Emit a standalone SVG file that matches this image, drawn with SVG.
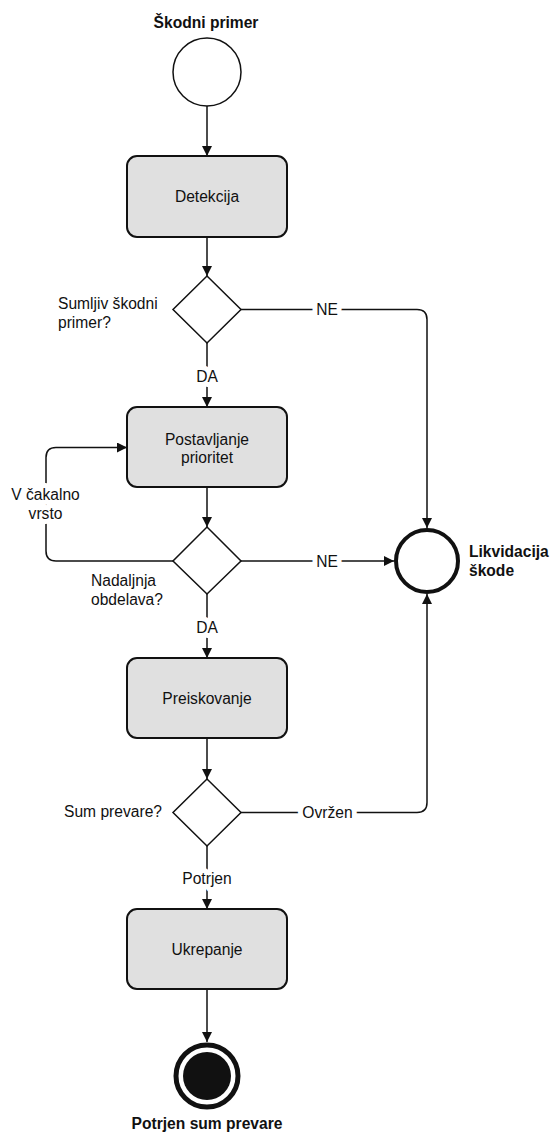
<svg xmlns="http://www.w3.org/2000/svg" width="550" height="1133" viewBox="0 0 550 1133">
  <style>
    text { font-family: "Liberation Sans", Arial, sans-serif; font-size: 15.6px; fill: #111; }
    .bold { font-weight: bold; }
    .mid { text-anchor: middle; }
    .halo { paint-order: stroke; stroke: #fff; stroke-width: 10px; stroke-linejoin: round; }
    .task { fill: #e0e0e0; stroke: #111; stroke-width: 2; }
    .gate { fill: #fff; stroke: #111; stroke-width: 1.5; }
    .flow { fill: none; stroke: #111; stroke-width: 1.5; }
  </style>
  <defs>
    <marker id="arrow" markerUnits="userSpaceOnUse" markerWidth="10" markerHeight="10" refX="10" refY="5" orient="auto">
      <path d="M0,0 L10,5 L0,10 z" fill="#111"/>
    </marker>
  </defs>
  <rect width="550" height="1133" fill="#fff"/>

  <!-- connectors -->
  <g id="connectors">
    <path class="flow" d="M207,106 V156" marker-end="url(#arrow)"/>
    <path class="flow" d="M207,237 V276" marker-end="url(#arrow)"/>
    <path class="flow" d="M241,309.5 H417 Q427,309.5 427,319.5 V528" marker-end="url(#arrow)"/>
    <path class="flow" d="M207,343 V407" marker-end="url(#arrow)"/>
    <path class="flow" d="M207,487 V527" marker-end="url(#arrow)"/>
    <path class="flow" d="M173,561 H56 Q46,561 46,551 V457.5 Q46,447.5 56,447.5 H127" marker-end="url(#arrow)"/>
    <path class="flow" d="M241,561 H394" marker-end="url(#arrow)"/>
    <path class="flow" d="M207,594 V658" marker-end="url(#arrow)"/>
    <path class="flow" d="M207,738 V779" marker-end="url(#arrow)"/>
    <path class="flow" d="M241,812.5 H417 Q427,812.5 427,802.5 V594" marker-end="url(#arrow)"/>
    <path class="flow" d="M207,846 V909" marker-end="url(#arrow)"/>
    <path class="flow" d="M207,989 V1042" marker-end="url(#arrow)"/>
    <!-- connector labels -->
    <text class="mid halo" x="327" y="315">NE</text>
    <text class="mid halo" x="207" y="382">DA</text>
    <text class="mid halo" x="45.5" y="499.5">V čakalno</text>
    <text class="mid halo" x="45.5" y="518.5">vrsto</text>
    <text class="mid halo" x="327" y="566.5">NE</text>
    <text class="mid halo" x="207" y="633">DA</text>
    <text class="mid halo" x="327.5" y="818">Ovržen</text>
    <text class="mid halo" x="207" y="883.5">Potrjen</text>
  </g>

  <!-- start event -->
  <g id="start">
    <circle cx="207" cy="72" r="34" fill="#fff" stroke="#111" stroke-width="1.5"/>
    <text class="bold mid" x="206" y="27.5">Škodni primer</text>
  </g>

  <!-- tasks -->
  <g id="detekcija">
    <rect class="task" x="127" y="156" width="160" height="81" rx="10"/>
    <text class="mid" x="207" y="202">Detekcija</text>
  </g>
  <g id="postavljanje">
    <rect class="task" x="127" y="407" width="160" height="80" rx="10"/>
    <text class="mid" x="207" y="444.5">Postavljanje</text>
    <text class="mid" x="207" y="462.5">prioritet</text>
  </g>
  <g id="preiskovanje">
    <rect class="task" x="127" y="658" width="160" height="80" rx="10"/>
    <text class="mid" x="207" y="703.5">Preiskovanje</text>
  </g>
  <g id="ukrepanje">
    <rect class="task" x="127" y="909" width="160" height="80" rx="10"/>
    <text class="mid" x="207" y="954.5">Ukrepanje</text>
  </g>

  <!-- gateways -->
  <g id="gate-sumljiv">
    <polygon class="gate" points="207,276 241,309.5 207,343 173,309.5"/>
    <text x="58" y="308.5">Sumljiv škodni</text>
    <text x="58" y="327.5">primer?</text>
  </g>
  <g id="gate-nadaljnja">
    <polygon class="gate" points="207,527 241,561 207,594 173,561"/>
    <text x="91" y="585.5">Nadaljnja</text>
    <text x="91" y="604.5">obdelava?</text>
  </g>
  <g id="gate-prevara">
    <polygon class="gate" points="207,779 241,812.5 207,846 173,812.5"/>
    <text x="162" y="817" text-anchor="end">Sum prevare?</text>
  </g>

  <!-- end events -->
  <g id="likvidacija">
    <circle cx="427" cy="561" r="31" fill="#fff" stroke="#111" stroke-width="4"/>
    <text class="bold" x="469" y="557">Likvidacija</text>
    <text class="bold" x="469" y="576">škode</text>
  </g>
  <g id="potrjen">
    <circle cx="207" cy="1076" r="31" fill="#fff" stroke="#111" stroke-width="5"/>
    <circle cx="207" cy="1076" r="24" fill="#111"/>
    <text class="bold mid" x="207" y="1128.5">Potrjen sum prevare</text>
  </g>
</svg>
